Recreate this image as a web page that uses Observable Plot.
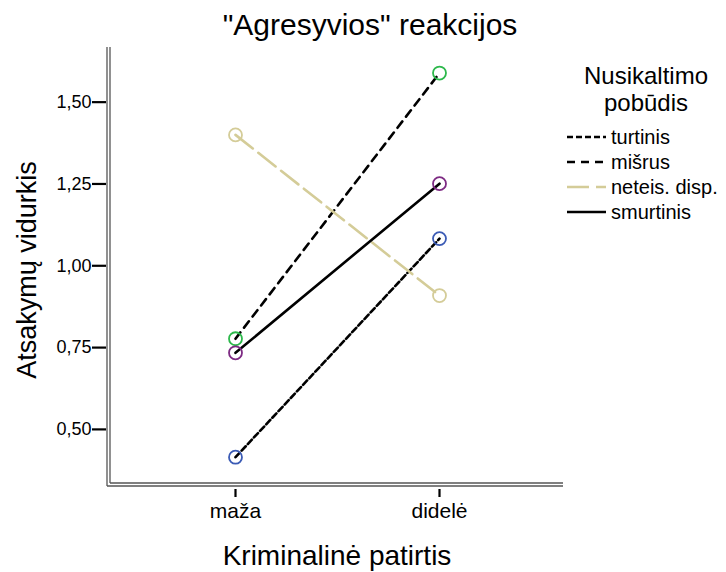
<!DOCTYPE html>
<html>
<head>
<meta charset="utf-8">
<script src="https://cdn.jsdelivr.net/npm/d3@7"></script>
<script src="https://cdn.jsdelivr.net/npm/@observablehq/plot@0.6"></script>
<style>
  html, body { margin: 0; padding: 0; background: #fff; }
  #chart { position: relative; width: 726px; height: 572px; font-family: "Liberation Sans", Arial, sans-serif; }
  #chart svg { position: absolute; left: 0; top: 0; }
</style>
</head>
<body>
<div id="chart"></div>
<script>
const title = "\"Agresyvios\" reakcijos";
const xLabel = "Kriminalinė patirtis";
const yLabel = "Atsakymų vidurkis";
const legendTitle = ["Nusikaltimo", "pobūdis"];
const categories = ["maža", "didelė"];
const seriesNames = ["turtinis", "mišrus", "neteis. disp.", "smurtinis"];
const turtinis = [0.415, 1.083];
const misrus = [0.777, 1.589];
const neteis = [1.400, 0.909];
const smurtinis = [0.734, 1.251];
const yTicks = [0.50, 0.75, 1.00, 1.25, 1.50];

const seriesValues = [turtinis, misrus, neteis, smurtinis];
const lineColor = ["#000", "#000", "#d4cc98", "#000"];
const markerColor = ["#3b5bb5", "#2cb84b", "#d4cc98", "#7d2a83"];
const dash = ["6,3", "8,6", "22,7", null];

const data = [];
seriesNames.forEach((s, i) => categories.forEach((c, j) => data.push({series: s, cat: c, value: seriesValues[i][j], idx: i})));

const W = 726, H = 572;
const mL = 110, mR = 163, mT = 47, mB = 89;
const yMin = 0.3347, yMax = 1.667;
const FONT = "'Liberation Sans', Arial, sans-serif";

const marks = [];
seriesNames.forEach((s, i) => {
  const d = data.filter(r => r.series === s);
  marks.push(Plot.line(d, {x: "cat", y: "value", stroke: lineColor[i], strokeWidth: 2.6, strokeDasharray: dash[i] || undefined}));
});
seriesNames.forEach((s, i) => {
  const d = data.filter(r => r.series === s);
  marks.push(Plot.dot(d, {x: "cat", y: "value", r: 6.5, stroke: markerColor[i], strokeWidth: 1.8, fill: "none"}));
});
marks.push(Plot.axisY({ticks: yTicks, tickFormat: v => v.toFixed(2).replace(".", ","), tickSize: 14, tickPadding: 1, strokeWidth: 2.2, fontSize: 18, color: "#000", dx: -4}));
marks.push(Plot.axisX({tickSize: 8, tickPadding: 6, strokeWidth: 2.2, fontSize: 21, color: "#000", dy: 6}));

const plot = Plot.plot({
  width: W, height: H,
  marginLeft: mL, marginRight: mR, marginTop: mT, marginBottom: mB,
  style: {fontFamily: FONT, background: "#fff", color: "#000"},
  x: {type: "point", domain: categories, padding: 0.605, align: 0.5, label: null},
  y: {domain: [yMin, yMax], label: null},
  marks
});
document.getElementById("chart").appendChild(plot);

const svg = d3.select(plot);
const xr = plot.scale("x").range, yr = plot.scale("y").range;
const pLeft = Math.min(...xr), pRight = Math.max(...xr);
const pBottom = Math.max(...yr), pTop = Math.min(...yr);
const g = svg.append("g").attr("stroke", "#555").attr("stroke-width", 1.3).attr("fill", "none");
g.append("line").attr("x1", pLeft).attr("x2", pLeft).attr("y1", pTop).attr("y2", pBottom);
g.append("line").attr("x1", pLeft - 3).attr("x2", pLeft - 3).attr("y1", pTop).attr("y2", pBottom + 3);
g.append("line").attr("x1", pLeft).attr("x2", pRight).attr("y1", pBottom).attr("y2", pBottom);
g.append("line").attr("x1", pLeft - 3).attr("x2", pRight).attr("y1", pBottom + 3).attr("y2", pBottom + 3);

const t = svg.append("g").attr("fill", "#000").attr("font-family", FONT);
t.append("text").attr("x", 370).attr("y", 35).attr("text-anchor", "middle").attr("font-size", 30).text(title);
t.append("text").attr("x", 337).attr("y", 565).attr("text-anchor", "middle").attr("font-size", 28).text(xLabel);
t.append("text").attr("transform", `translate(36,270) rotate(-90)`).attr("text-anchor", "middle").attr("font-size", 27).text(yLabel);
legendTitle.forEach((l, i) => t.append("text").attr("x", 646).attr("y", 84 + i * 27).attr("text-anchor", "middle").attr("font-size", 24).text(l));

const lg = svg.append("g");
seriesNames.forEach((s, i) => {
  const y = 137 + i * 25;
  lg.append("line").attr("x1", 567).attr("x2", 606).attr("y1", y).attr("y2", y)
    .attr("stroke", lineColor[i]).attr("stroke-width", 2.4).attr("stroke-dasharray", dash[i]);
  lg.append("text").attr("x", 611).attr("y", y + 7).attr("text-anchor", "start").attr("font-size", 20).attr("font-family", FONT).text(s);
});
</script>
</body>
</html>
